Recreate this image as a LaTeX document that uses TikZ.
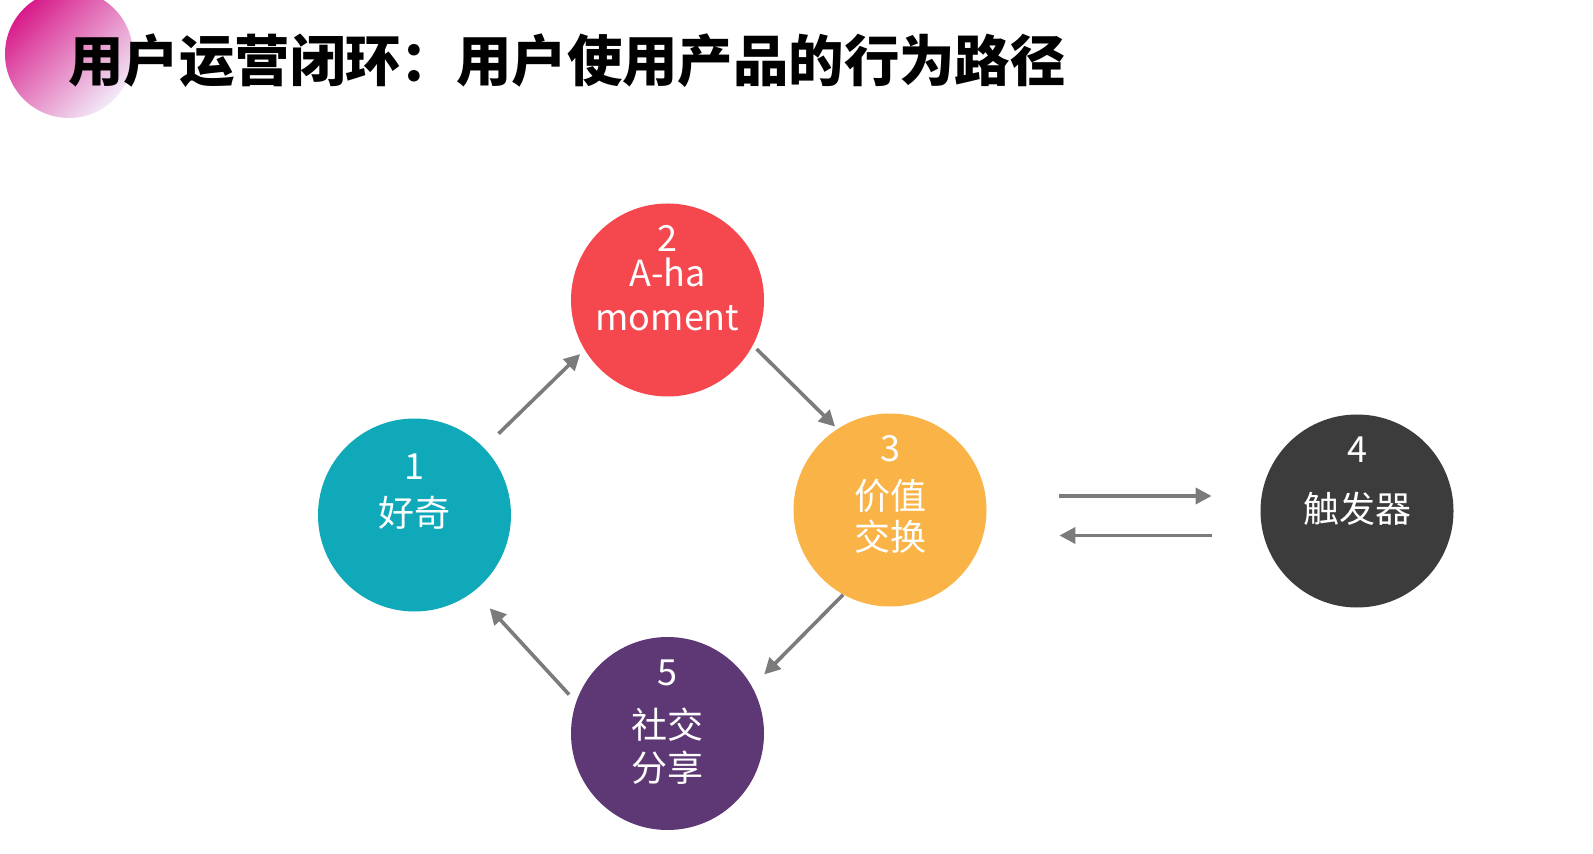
\documentclass[tikz,border=0pt]{standalone}
\usepackage{fontspec}
\setmainfont{Noto Sans CJK SC}
\usetikzlibrary{arrows.meta,calc}
\definecolor{curioteal}{HTML}{10A9BA}
\definecolor{ahared}{HTML}{F5474E}
\definecolor{valueorange}{HTML}{F9B347}
\definecolor{triggergrey}{HTML}{3C3C3C}
\definecolor{sharepurple}{HTML}{5E3874}
\definecolor{arrowgrey}{HTML}{7B7B7B}
\definecolor{blobpink}{HTML}{D81B8A}
\definecolor{blobmauve}{HTML}{A852B4}
\definecolor{bloblilac}{HTML}{F2EAF8}

\begin{document}
\begin{tikzpicture}[x=0.5pt, y=-0.5pt,
  ball/.style={circle, fill=#1, minimum size=96.5pt, inner sep=0pt},
  lbl/.style={text=white, align=center, inner sep=0pt, font=\fontsize{18pt}{21pt}\selectfont},
  flow/.style={draw=arrowgrey, line width=1.8pt, -{Triangle[length=8pt, width=8pt]}}]
  \useasboundingbox[fill=white] (0,0) rectangle (1593,854);
  % title with the round badge behind it
  \shade[top color=blobpink, middle color=blobmauve, bottom color=bloblilac, shading angle=45]
       (69,54) circle (32pt);
  \node[anchor=west, inner sep=0pt, font=\fontsize{27.7pt}{30pt}\selectfont\bfseries]
       (title) at (68,61) {用户运营闭环：用户使用产品的行为路径};

  \node[ball=curioteal]   (c1) at (414.5,515) {};
  \node[ball=ahared]      (c2) at (667.5,300) {};
  \node[ball=valueorange] (c3) at (890,510) {};
  \node[ball=triggergrey] (c4) at (1357,511) {};
  \node[ball=sharepurple] (c5) at (667.5,733.5) {};

  \node[lbl] (t1) at ([yshift=11.5pt]c1) {1\\[2.5pt]好奇};
  \node[lbl] (t2) at ([yshift=10.75pt]c2) {2\\[-3.5pt]A-ha\\[1pt]moment};
  \node[lbl] (t3) at ([yshift=8pt]c3) {3\\[3pt]价值\\[-0.5pt]交换};
  \node[lbl] (t4) at ([yshift=15pt]c4) {4\\[9pt]触发器};
  \node[lbl] (t5) at ([yshift=5.75pt]c5) {5\\[5.5pt]社交\\[0.5pt]分享};

  % the loop
  \draw[flow, shorten <=10pt, shorten >=3pt] (c1.44) -- (c2.211);
  \draw[flow, shorten <=2.5pt, shorten >=1.5pt] (c2.-28.5) -- (c3.123);
  \draw[flow, shorten >=8.5pt] (c3.241) -- (c5.29);
  \draw[flow, shorten <=5pt, shorten >=11.5pt] (c5.161) -- (c1.-52);

  % exchange with the trigger
  \draw[flow, shorten <=36.25pt, shorten >=24.25pt]
       ([yshift=7pt]c3.east) -- ([yshift=7pt]c3.east -| c4.west);
  \draw[flow, shorten <=24.25pt, shorten >=36.25pt]
       ([yshift=-12.75pt]c3.east -| c4.west) -- ([yshift=-12.75pt]c3.east);
\end{tikzpicture}
\end{document}
